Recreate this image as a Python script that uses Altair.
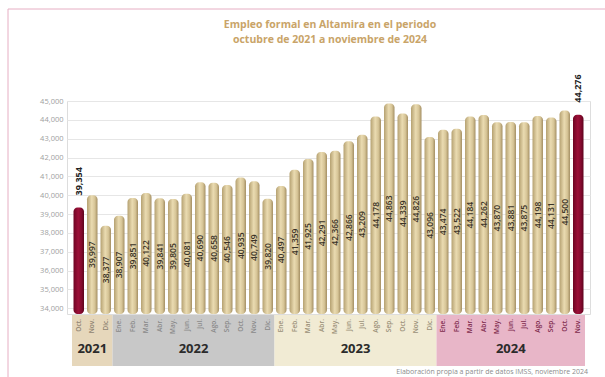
import altair as alt
import pandas as pd

months = ["Oct.", "Nov.", "Dic.",
          "Ene.", "Feb.", "Mar.", "Abr.", "May.", "Jun.", "Jul.", "Ago.", "Sep.", "Oct.", "Nov.", "Dic.",
          "Ene.", "Feb.", "Mar.", "Abr.", "May.", "Jun.", "Jul.", "Ago.", "Sep.", "Oct.", "Nov.", "Dic.",
          "Ene.", "Feb.", "Mar.", "Abr.", "May.", "Jun.", "Jul.", "Ago.", "Sep.", "Oct.", "Nov."]
years = ["2021"] * 3 + ["2022"] * 12 + ["2023"] * 12 + ["2024"] * 11
values = [39354, 39997, 38377,
          38907, 39851, 40122, 39841, 39805, 40081, 40690, 40658, 40546, 40935, 40749, 39820,
          40497, 41359, 41925, 42291, 42366, 42866, 43209, 44178, 44863, 44339, 44826, 43096,
          43474, 43522, 44184, 44262, 43870, 43881, 43875, 44198, 44131, 44500, 44276]
highlight = [True] + [False] * 36 + [True]

year_labels = ["2021", "2022", "2023", "2024"]
year_colors = ["#e6d7bb", "#c8c8c8", "#f1ebd4", "#e8b6c8"]
month_colors = ["#8f8472", "#8a8a8a", "#9a9078", "#7d2a4c"]
y_ticks = list(range(34000, 45001, 1000))
y_min, y_max = 33700, 45000

title_lines = ["Empleo formal en Altamira en el periodo", "octubre de 2021 a noviembre de 2024"]
source_note = "Elaboración propia a partir de datos IMSS, noviembre 2024"

W, H = 523, 213
PL, PT = 67, 101

df = pd.DataFrame({
    "idx": list(range(len(values))),
    "mes": months,
    "anio": years,
    "valor": values,
    "hl": highlight,
})

x_scale = alt.Scale(domain=[-0.5, len(values) - 0.5], nice=False, zero=False)
y_scale = alt.Scale(domain=[y_min, y_max], nice=False, zero=False)
y_axis = alt.Axis(values=y_ticks, labelExpr="format(datum.value, ',')", title=None,
                  domain=False, ticks=False,
                  grid=True, gridColor="#e6e6e6", gridWidth=1,
                  labelColor="#a0a0a0", labelFontSize=7.5, labelFont="Open Sans",
                  labelPadding=4)


def X(field):
    return alt.X(field, scale=x_scale, axis=None)


def Y(field):
    return alt.Y(field, scale=y_scale, axis=y_axis)


base = alt.Chart(df)

tan_grad = alt.Gradient(gradient="linear", x1=0, x2=1, y1=0, y2=0, stops=[
    alt.GradientStop(color="#b5a171", offset=0),
    alt.GradientStop(color="#eadbb1", offset=0.45),
    alt.GradientStop(color="#d6c496", offset=0.75),
    alt.GradientStop(color="#a48f63", offset=1),
])
red_grad = alt.Gradient(gradient="linear", x1=0, x2=1, y1=0, y2=0, stops=[
    alt.GradientStop(color="#6e0523", offset=0),
    alt.GradientStop(color="#9c1038", offset=0.45),
    alt.GradientStop(color="#850a2e", offset=0.75),
    alt.GradientStop(color="#5e041d", offset=1),
])

bars_tan = base.transform_filter("!datum.hl").mark_bar(
    color=tan_grad, width=10.5, cornerRadius=4
).encode(x=X("idx:Q"), y=Y("valor:Q"), y2=alt.datum(y_min))

bars_red = base.transform_filter("datum.hl").mark_bar(
    color=red_grad, width=10.5, cornerRadius=4
).encode(x=X("idx:Q"), y=Y("valor:Q"), y2=alt.datum(y_min))

inner_labels = base.transform_filter("!datum.hl").transform_calculate(
    mid=f"(datum.valor + {y_min}) / 2"
).mark_text(angle=270, fontSize=8.5, font="Open Sans", fontWeight=600, color="#3a3326",
            align="center", baseline="middle").encode(
    x=X("idx:Q"), y=Y("mid:Q"), text=alt.Text("valor:Q", format=",")
)

top_labels = base.transform_filter("datum.hl").mark_text(
    angle=270, fontSize=9, font="Open Sans", fontWeight="bold", color="#222222",
    align="left", baseline="middle", yOffset=-12
).encode(x=X("idx:Q"), y=Y("valor:Q"), text=alt.Text("valor:Q", format=","))

year_bands = base.transform_aggregate(
    i0="min(idx)", i1="max(idx)", groupby=["anio"]
).transform_calculate(
    x0="datum.i0 - 0.5", x1="datum.i1 + 0.5", xm="(datum.i0 + datum.i1) / 2"
)

bands = year_bands.mark_rect().encode(
    x=X("x0:Q"),
    x2="x1:Q",
    y=alt.value(H + 1),
    y2=alt.value(H + 52),
    color=alt.Color("anio:N", scale=alt.Scale(domain=year_labels, range=year_colors), legend=None),
)

year_text = year_bands.mark_text(fontSize=13, font="Open Sans", fontWeight="bold", color="#2b2b2b",
                                 baseline="middle").encode(
    x=X("xm:Q"),
    y=alt.value(H + 35),
    text="anio:N",
)

month_text = base.mark_text(angle=270, fontSize=6.5, font="Open Sans", fontWeight=600,
                            align="right", baseline="middle").encode(
    x=X("idx:Q"),
    y=alt.value(H + 5),
    text="mes:N",
    color=alt.Color("anio:N", scale=alt.Scale(domain=year_labels, range=month_colors), legend=None),
)

one = pd.DataFrame({"a": [0]})

note = alt.Chart(pd.DataFrame({"t": [source_note]})).mark_text(
    fontSize=7, font="Open Sans", color="#8c8c8c", align="right", baseline="middle"
).encode(x=alt.value(W - 2), y=alt.value(H + 58), text="t:N")

title1 = alt.Chart(pd.DataFrame({"t": [title_lines[0]]})).mark_text(
    fontSize=10.5, font="Open Sans", fontWeight="bold", color="#c9a468", align="center", baseline="middle"
).encode(x=alt.value(330 - PL), y=alt.value(25 - PT), text="t:N")
title2 = alt.Chart(pd.DataFrame({"t": [title_lines[1]]})).mark_text(
    fontSize=10.5, font="Open Sans", fontWeight="bold", color="#c9a468", align="center", baseline="middle"
).encode(x=alt.value(330 - PL), y=alt.value(40 - PT), text="t:N")

border_top = alt.Chart(one).mark_rule(color="#e6aec3", strokeWidth=1).encode(
    x=alt.value(8 - PL), x2=alt.value(605 - PL), y=alt.value(9 - PT))
border_left = alt.Chart(one).mark_rule(color="#e6aec3", strokeWidth=1).encode(
    x=alt.value(8 - PL), y=alt.value(9 - PT), y2=alt.value(377 - PT))

chart = alt.layer(
    bars_tan, border_top, border_left, bands, month_text, year_text,
    bars_red, inner_labels, top_labels, note, title1, title2
).resolve_scale(color="independent").properties(
    width=W, height=H,
    autosize=alt.AutoSizeParams(type="none"),
    padding={"left": PL, "top": PT, "right": 605 - PL - W, "bottom": 377 - PT - H},
).configure_view(strokeWidth=0, stroke="transparent").configure(background="white")

chart.save("out.html", embed_options={"renderer": "svg", "actions": False})
